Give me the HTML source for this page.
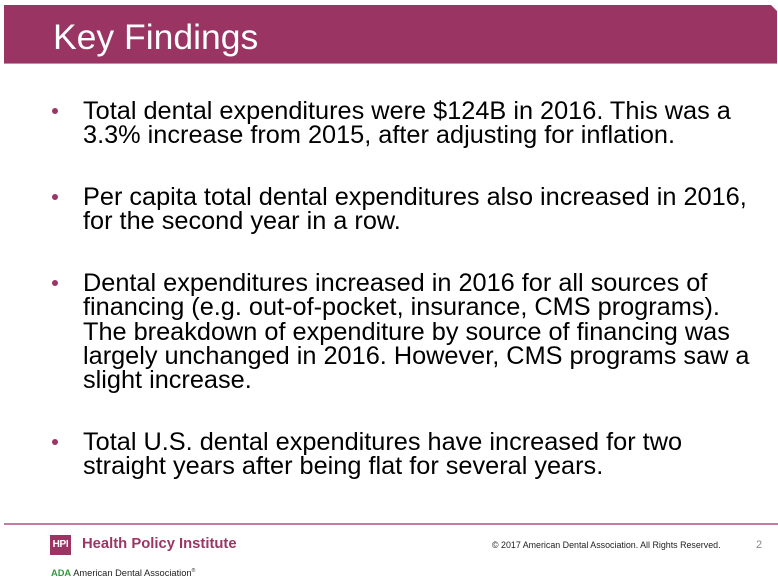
<!DOCTYPE html>
<html><head><meta charset="utf-8"><style>
html,body{margin:0;padding:0;background:#fff;}
body{width:778px;height:579px;position:relative;overflow:hidden;font-family:"Liberation Sans",Arial,sans-serif;}
.bar{position:absolute;left:4px;top:5px;width:773px;height:59px;background:#993463;
clip-path:polygon(0 0,767px 0,773px 6px,773px 59px,0 59px);}
.barline{position:absolute;left:4px;top:63px;width:773px;height:1px;background:#c58aa8;}
.title{position:absolute;left:53px;top:17px;font-size:35.5px;line-height:40px;color:#fff;white-space:nowrap;}
.p{position:absolute;left:83px;font-size:25.3px;line-height:24.25px;color:#000;white-space:nowrap;}
.dot{position:absolute;left:52px;width:6px;height:6px;border-radius:50%;background:#9b3565;}
.sep{position:absolute;left:4px;top:523px;width:774px;height:2px;background:#c27ca1;}
.hpibox{position:absolute;left:50px;top:535px;width:21px;height:20px;background:#993463;color:#fff;font-weight:bold;font-size:10px;line-height:20px;text-align:center;letter-spacing:-0.3px;}
.hpi{position:absolute;left:82px;top:536px;font-size:14.8px;font-weight:bold;color:#9b3565;white-space:nowrap;line-height:16px;}
.ada{position:absolute;left:51px;top:566px;font-size:9.3px;line-height:10px;white-space:nowrap;color:#222;}
.ada b{color:#2f9a3c;}
.copy{position:absolute;left:492px;top:540px;font-size:8.9px;line-height:10px;color:#222;white-space:nowrap;}
.pg{position:absolute;left:756px;top:539px;font-size:11px;line-height:12px;color:#888;}
</style></head><body>
<div class="bar"></div>
<div class="barline"></div>
<div class="title">Key Findings</div>

<div class="dot" style="top:108px"></div>
<div class="p" style="top:99px">Total dental expenditures were $124B in 2016. This was a<br>3.3% increase from 2015, after adjusting for inflation.</div>

<div class="dot" style="top:194px"></div>
<div class="p" style="top:185px">Per capita total dental expenditures also increased in 2016,<br>for the second year in a row.</div>

<div class="dot" style="top:280px"></div>
<div class="p" style="top:271px">Dental expenditures increased in 2016 for all sources of<br>financing (e.g. out-of-pocket, insurance, CMS programs).<br>The breakdown of expenditure by source of financing was<br>largely unchanged in 2016. However, CMS programs saw a<br>slight increase.</div>

<div class="dot" style="top:439px"></div>
<div class="p" style="top:430px">Total U.S. dental expenditures have increased for two<br>straight years after being flat for several years.</div>

<div class="sep"></div>
<div class="hpibox">HPI</div>
<div class="hpi">Health Policy Institute</div>
<div class="ada"><b>ADA</b> American Dental Association<sup style="font-size:5px">®</sup></div>
<div class="copy">© 2017 American Dental Association. All Rights Reserved.</div>
<div class="pg">2</div>
</body></html>
